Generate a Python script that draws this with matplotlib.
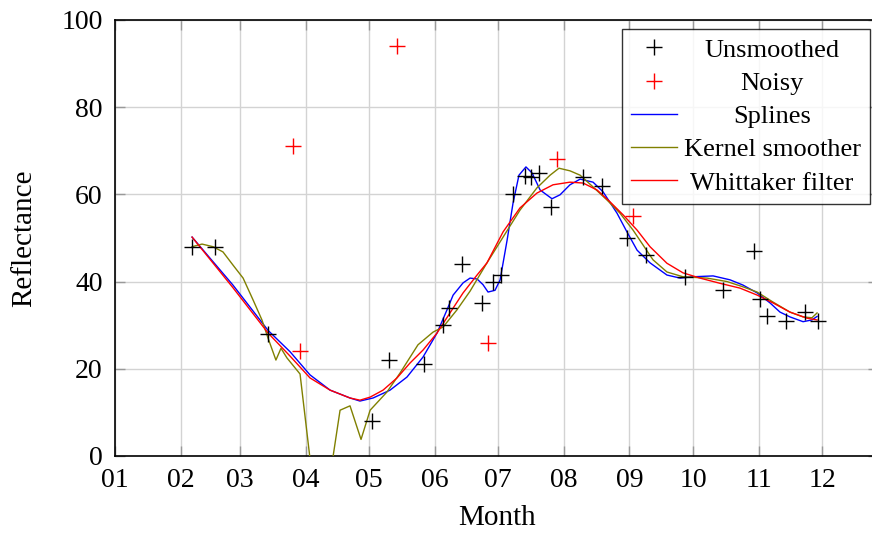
import numpy as np
import matplotlib
matplotlib.use('Agg')
import matplotlib.pyplot as plt
import matplotlib.dates as mdates
from matplotlib.transforms import Affine2D
from datetime import datetime

plt.rcParams['font.family'] = ['Liberation Serif', 'DejaVu Serif']

# day of year (from 1 Jan) and reflectance values
raw_days = [36.4, 47.2, 72.3, 121.4, 129.4, 146, 154.9, 157.8, 163.9, 173.4, 178.6, 182.3,
            188, 193.7, 196.5, 200.3, 205.9, 221.1, 230, 241.8, 250.8, 269.3, 287.2,
            301.9, 304.7, 308, 317, 326, 332.1]
raw_vals = [48, 48, 28, 8, 22, 21, 30, 34, 44, 35, 40, 41.6,
            60, 64.2, 64, 64.8, 57, 64, 62, 50, 46, 41, 38,
            47, 36, 32, 31, 33, 31]

noisy_days = [84.1, 87.4, 133.2, 176.2, 208.8, 244.7]
noisy_vals = [71, 24, 94, 26, 68, 55]

spline_days = [36.4, 55.7, 72.3, 82.7, 92.1, 101.6, 111, 115.7, 121.9, 129.9, 137.9, 145.5,
               152.1, 156.8, 159.7, 164.4, 167.7, 171, 173.8, 176.2, 179.5, 181.9, 185.2,
               188, 190.8, 194.1, 197, 200.8, 206.4, 210.2, 214.9, 219.7, 225.8, 230.5,
               237.1, 241.8, 246.6, 252.7, 260.7, 266.9, 273, 282.5, 290.5, 296.6, 303.3,
               309.4, 314.1, 318.8, 325, 329.2, 331.6]
spline_vals = [50.2, 39.2, 28.8, 23.9, 18.6, 15.1, 13.3, 12.6, 13.3, 15.1, 18.1, 22.7,
               28.2, 33.5, 36.9, 39.7, 40.8, 40.6, 39.3, 37.6, 38, 40.4, 49.5,
               58, 64.4, 66.3, 64.9, 61, 59, 59.9, 62.2, 63.5, 62.8, 60.6,
               55.7, 51.4, 47.2, 44.3, 41.5, 40.8, 41.1, 41.3, 40.4, 39.2, 37.4,
               35.1, 33, 31.9, 30.8, 31.2, 32]

kernel_days = [36.4, 41.1, 46.3, 51, 55.7, 60.5, 65.2, 69.4, 72.3, 76, 78.4, 81.2, 87.4,
               96.8, 106.3, 111, 116.2, 120.5, 128.5, 134.6, 143.1, 150.2, 155, 161.5,
               167.7, 175.7, 183.3, 191.3, 199.3, 205.5, 209.7, 214.9, 219.7, 225.8, 232.4,
               238.5, 244.7, 249.4, 254.1, 260.7, 268.3, 279.6, 289.1, 296.6, 303.3, 310.8,
               318.8, 325, 329.2, 331.6]
kernel_vals = [48, 48.6, 48, 46.8, 43.8, 40.8, 35.8, 31.2, 27, 22, 24.7, 22.5, 18.8,
               -20, 10.5, 11.5, 3.8, 10.5, 14.7, 19, 25.5, 28.4, 29.6, 33.5,
               37.8, 44.3, 50.2, 56.4, 61.5, 64.4, 66, 65.4, 64.4, 61.7, 58.7,
               55.7, 51.8, 48.4, 45, 42.2, 41.1, 40.8, 40, 38.8, 37.6, 35.3,
               33, 31.9, 31.7, 32.8]

whit_days = [36.4, 55.7, 72.3, 82.7, 87.4, 92.1, 101.6, 111, 115.7, 120.5, 126.6, 133.2,
             139.3, 145.5, 152.1, 158.2, 164.4, 171, 175.7, 183.3, 191.3, 199.3, 206.9,
             214.9, 221.1, 227.7, 233.8, 240, 246.6, 252.7, 260.7, 268.3, 276.3, 285.8,
             295.2, 303.3, 310.8, 318.8, 326.9, 331.6]
whit_vals = [50.2, 38.6, 28.2, 22.9, 20.4, 17.9, 15.1, 13.3, 12.8, 13.5, 15.1, 17.9,
             21.3, 24.3, 28.2, 32.8, 37.4, 41.5, 44.3, 51.4, 56.9, 60.3, 62.2,
             62.8, 62.6, 61, 58.3, 55.3, 51.8, 48, 44.2, 42, 40.8, 39.6,
             38.5, 36.9, 35.1, 33, 31.6, 31.2]

start = mdates.date2num(datetime(2023, 1, 1))

def to_date(d):
    return start + np.array(d)

fig = plt.figure(figsize=(8.72, 5.34), dpi=100)
# the right edge of the axes is cut off in the original picture
ax = fig.add_axes([0.1319, 0.1461, 0.875, 0.8165])

ax.plot(to_date(raw_days), raw_vals, '+', color='black', ms=12, mew=1.0, label='Unsmoothed', zorder=4)
ax.plot(to_date(noisy_days), noisy_vals, '+', color='red', ms=12, mew=1.0, label='Noisy', zorder=4)
ax.plot(to_date(spline_days), spline_vals, color='blue', lw=1.0, label='Splines', zorder=3)
ax.plot(to_date(kernel_days), kernel_vals, color='#808000', lw=1.0, label='Kernel smoother', zorder=3)
ax.plot(to_date(whit_days), whit_vals, color='red', lw=1.0, label='Whittaker filter', zorder=3)

ax.set_xlim(start, start + 360.4)
ax.set_ylim(0, 100)
ax.xaxis.set_major_locator(mdates.MonthLocator())
ax.xaxis.set_major_formatter(mdates.DateFormatter('%m'))
ax.set_yticks([0, 20, 40, 60, 80, 100])

ax.grid(True, color='#d3d3d3', lw=1.0)
ax.set_axisbelow(True)
ax.tick_params(direction='in', length=7, width=1, color='#999999', top=True, right=True,
               labelsize=20)
ax.tick_params(axis='x', pad=8.5)
ax.tick_params(axis='y', pad=9)
for s in ax.spines.values():
    s.set_linewidth(1.2)

ax.set_xlabel('Month', fontsize=21, labelpad=9)
ax.set_ylabel('Reflectance', fontsize=21, labelpad=17)

leg = ax.legend(loc='upper right', bbox_to_anchor=(0.9893, 0.9794), borderaxespad=0,
                fontsize=19, frameon=True, fancybox=False, edgecolor='black',
                handlelength=1.75, handletextpad=0.25, labelspacing=0.37, borderpad=0.35,
                numpoints=1)
leg.get_frame().set_linewidth(1.0)

# centre the legend texts in their column, like pgfplots does
fig.canvas.draw()
r = fig.canvas.get_renderer()
widths = [t.get_window_extent(r).width for t in leg.get_texts()]
wmax = max(widths)
for t, w in zip(leg.get_texts(), widths):
    t.set_transform(t.get_transform() + Affine2D().translate((wmax - w) / 2, 0))

fig.savefig('out.png', dpi=100)
